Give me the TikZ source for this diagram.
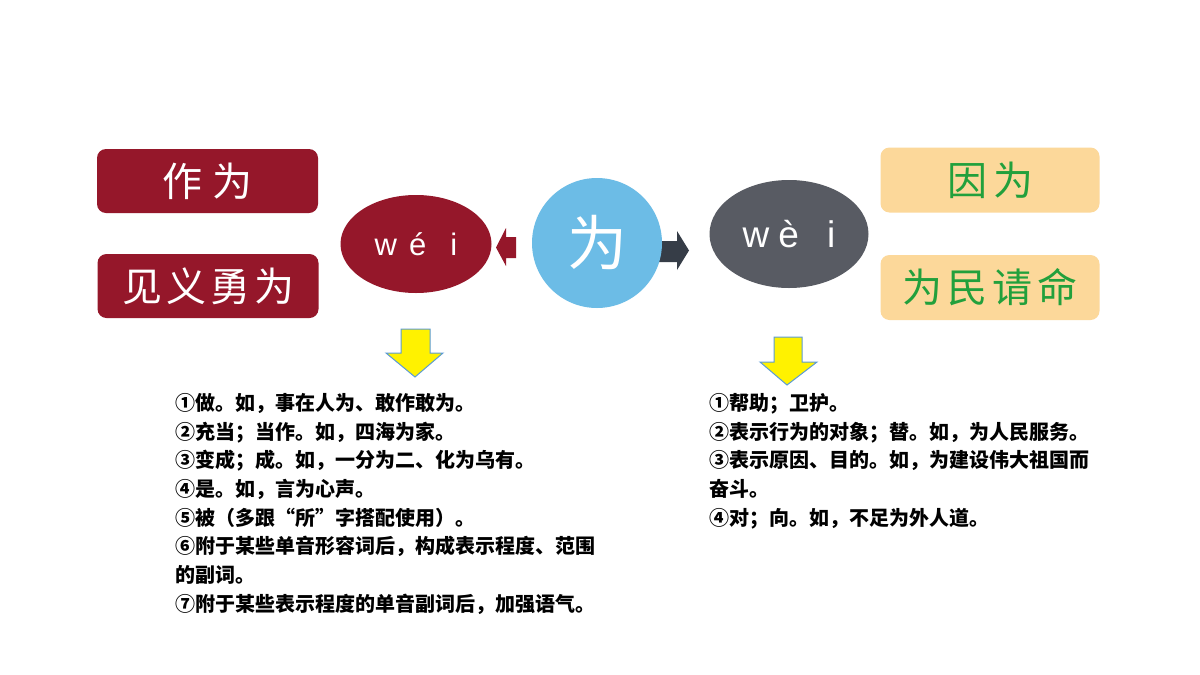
\documentclass[tikz,border=0pt]{standalone}
\usepackage{fontspec}
\setmainfont{Liberation Sans}
\newfontfamily\cjk{Noto Sans CJK SC}
\newfontfamily\pyfont{Liberation Sans}
\usetikzlibrary{shapes.geometric}
\definecolor{wred}{RGB}{149,23,42}
\definecolor{wgrey}{RGB}{88,91,99}
\definecolor{wblue}{RGB}{108,188,230}
\definecolor{wpeach}{RGB}{252,216,154}
\definecolor{wgreen}{RGB}{34,160,60}
\definecolor{wdark}{RGB}{54,61,71}
\definecolor{yedge}{RGB}{91,155,213}
\tikzset{
  redbox/.style={fill=wred, rounded corners=9pt, minimum width=221pt, minimum height=64pt, inner sep=0pt, text=white, font=\cjk\fontsize{40}{40}\selectfont},
  peachbox/.style={fill=wpeach, rounded corners=9pt, minimum width=219pt, minimum height=65pt, inner sep=0pt, text=wgreen, font=\cjk\fontsize{40}{40}\selectfont},
  pyoval/.style={ellipse, inner sep=0pt, text=white},
  yarrow/.style={fill=yellow, draw=yedge, line width=1pt, line join=miter},
  bodytext/.style={anchor=north west, inner sep=0pt, align=left, font=\cjk\bfseries\fontsize{20}{28.7}\selectfont}
}
\begin{document}
\begin{tikzpicture}[x=1pt,y=-1pt]
\fill[white] (0,0) rectangle (1200,675);
\useasboundingbox (0,0) rectangle (1200,675);

% left boxes
\node[redbox] (zw) at (207.5,181) {作\hspace{10pt}为};
\node[redbox] (jy) at (208,286) {见\hspace{4pt}义\hspace{4pt}勇\hspace{4pt}为};

% right boxes
\node[peachbox] (yw) at (990,180) {因\hspace{6pt}为};
\node[peachbox] (wm) at (990,287.5) {为\hspace{5pt}民\hspace{5pt}请\hspace{5pt}命};

% block arrows
\fill[wred] (496,247.5) -- (506,228) -- (506,237) -- (516,237) -- (516,258) -- (506,258) -- (506,266) -- cycle;
\fill[wdark] (655,241) -- (677,241) -- (677,231) -- (689,250.5) -- (677,270) -- (677,262) -- (655,262) -- cycle;

% ellipses and circle
\node[pyoval, fill=wred, minimum width=151pt, minimum height=98pt, font=\pyfont\fontsize{31}{31}\selectfont] (wei2) at (416,244) {w\hspace{12pt}é\hspace{24pt}i};
\node[circle, fill=wblue, minimum size=130pt, inner sep=0pt, text=white, font=\cjk\fontsize{60}{60}\selectfont] (wei) at (597,243) {为};
\node[pyoval, fill=wgrey, minimum width=159pt, minimum height=108pt, font=\pyfont\fontsize{37}{37}\selectfont] (wei4) at (789,234) {w\hspace{9pt}è\hspace{28pt}i};

% yellow arrows
\draw[yarrow] (401,329) -- (430,329) -- (430,353) -- (443,353) -- (415,377) -- (386,353) -- (401,353) -- cycle;
\draw[yarrow] (774,337) -- (802,337) -- (802,362) -- (817,362) -- (787,385) -- (760,362) -- (774,362) -- cycle;

% texts
\node[bodytext] (lt) at (175,393) {①做。如，事在人为、敢作敢为。\\
②充当；当作。如，四海为家。\\
③变成；成。如，一分为二、化为乌有。\\
④是。如，言为心声。\\
⑤被（多跟“所”字搭配使用）。\\
⑥附于某些单音形容词后，构成表示程度、范围\\
的副词。\\
⑦附于某些表示程度的单音副词后，加强语气。};

\node[bodytext] (rt) at (709,393) {①帮助；卫护。\\
②表示行为的对象；替。如，为人民服务。\\
③表示原因、目的。如，为建设伟大祖国而\\
奋斗。\\
④对；向。如，不足为外人道。};
\end{tikzpicture}
\end{document}
